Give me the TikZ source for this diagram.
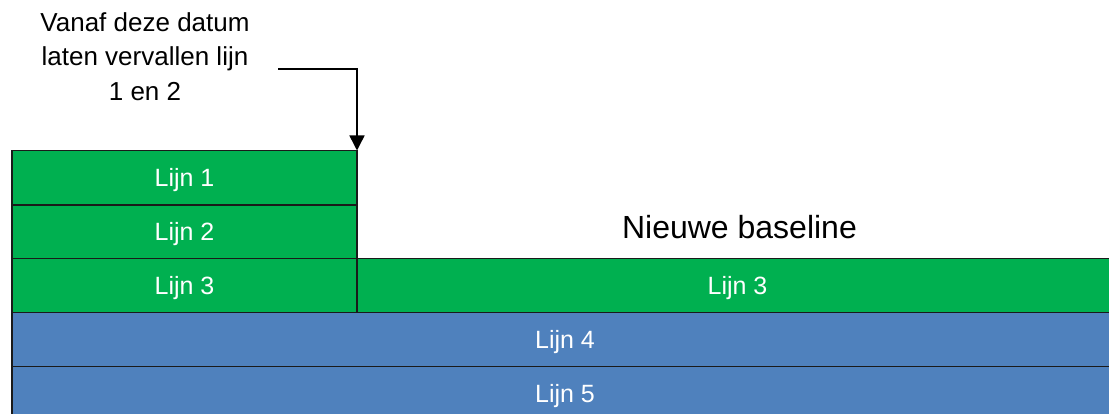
\documentclass[tikz,border=0pt]{standalone}
\usepackage{fontspec}
\setmainfont{Liberation Sans}
\usetikzlibrary{arrows.meta}
\definecolor{boxgreen}{HTML}{00B050}
\definecolor{boxblue}{HTML}{4F81BD}
\definecolor{edgedark}{HTML}{1A1A1A}
\tikzset{
  lijnbox/.style={draw=edgedark, line width=1.5pt, text=white, inner sep=0pt, outer sep=0pt,
    font=\fontsize{25}{30}\selectfont, text depth=0pt, anchor=north west},
  greenbox/.style={lijnbox, fill=boxgreen},
  bluebox/.style={lijnbox, fill=boxblue},
  callout/.style={align=center, inner sep=0pt, font=\fontsize{26}{34.5}\selectfont},
  pointer/.style={draw=black, line width=1.5pt, -{Triangle[width=15pt,length=15pt]}}
}
\begin{document}
\begin{tikzpicture}[x=1pt,y=-1pt]
  \useasboundingbox (0,0) rectangle (1109,414);
  % blocks
  \node[bluebox, minimum width=1106pt, minimum height=54pt] (l5) at (12,366.7) {Lijn 5};
  \node[bluebox, minimum width=1106pt, minimum height=54pt] (l4) at (12,312.7) {Lijn 4};
  \node[greenbox, minimum width=345pt, minimum height=54.2pt] (l3a) at (12,258.5) {Lijn 3};
  \node[greenbox, minimum width=761pt, minimum height=54.2pt] (l3b) at (357,258.5) {Lijn 3};
  \node[greenbox, minimum width=345pt, minimum height=53.5pt] (l2) at (12,205) {Lijn 2};
  \node[greenbox, minimum width=345pt, minimum height=54.5pt] (l1) at (12,150.5) {Lijn 1};
  % labels
  \node[callout] (note) at (145,56.5) {Vanaf deze datum\\laten vervallen lijn\\1 en 2};
  \node[inner sep=0pt, anchor=base, font=\fontsize{32}{36}\selectfont] (nb) at (739.5,238.3) {Nieuwe baseline};
  % pointer
  \coordinate (ps) at (278,69);
  \draw[pointer] (ps) -- (l1.north east |- ps) -- (l1.north east);
\end{tikzpicture}
\end{document}
